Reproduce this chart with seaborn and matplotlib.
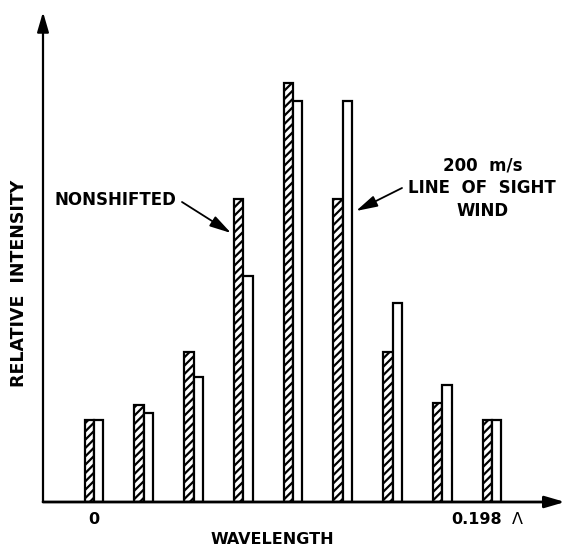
import matplotlib
matplotlib.use("Agg")
import matplotlib.pyplot as plt
import seaborn as sns
import pandas as pd

# Data (relative intensity, arbitrary units)
positions = [0, 1, 2, 3, 4, 5, 6, 7, 8]
nonshifted = [82, 97, 150, 303, 419, 303, 150, 99, 82]
shifted = [82, 89, 125, 226, 401, 401, 199, 117, 82]
series_names = ["NONSHIFTED", "200 m/s LINE OF SIGHT WIND"]

df = pd.DataFrame({
    "pos": positions * 2,
    "val": nonshifted + shifted,
    "series": [series_names[0]] * len(positions) + [series_names[1]] * len(positions),
})

sns.set_style("white")
plt.rcParams["font.family"] = ["DejaVu Sans"]
plt.rcParams["hatch.linewidth"] = 1.6

W, H = 565, 550
fig = plt.figure(figsize=(W / 100, H / 100), dpi=100)
x0, y0, x1, y1 = 43, 502, 565, 12
ax = fig.add_axes([x0 / W, (H - y0) / H, (x1 - x0) / W, (y0 - y1) / H])

sns.barplot(data=df, x="pos", y="val", hue="series", order=positions,
            hue_order=series_names, width=0.38, dodge=True, gap=0,
            palette={series_names[0]: "white", series_names[1]: "white"},
            edgecolor="black", linewidth=1.6, legend=False, ax=ax)

for p in ax.containers[0]:
    p.set_hatch("////")

# axis range: left spine at 43 px, data 0 at 94 px, 8 at 492 px
unit = (492 - 94) / 8.0
ax.set_xlim(-(94 - 43) / unit, (565 - 94) / unit)
ax.set_ylim(0, 490)

for s in ax.spines.values():
    s.set_visible(False)
ax.set_xticks([])
ax.set_yticks([])
ax.set_xlabel("")
ax.set_ylabel("")

def pix_arrow(xs, ys, xe, ye, lw=1.3, hl=1.3, hw=0.35):
    fig.add_artist(matplotlib.patches.FancyArrowPatch(
        (xs / W, 1 - ys / H), (xe / W, 1 - ye / H), transform=fig.transFigure,
        arrowstyle=f"-|>,head_length={hl},head_width={hw}", mutation_scale=10,
        color="black", lw=lw, shrinkA=0, shrinkB=0))

# axes with arrows
pix_arrow(43, 502, 43, 12, lw=1.6, hl=1.2, hw=0.35)
pix_arrow(43, 502, 565, 502, lw=2.0, hl=1.2, hw=0.35)

tf = dict(fontsize=12, fontweight="bold", color="black")

def figtext(x, y, s, **kw):
    d = dict(tf)
    d.update(kw)
    fig.text(x / W, 1 - y / H, s, **d)

figtext(94, 520, "0", ha="center", va="center", fontsize=11.5)
figtext(477, 520, "0.198", ha="center", va="center", fontsize=11.5)
figtext(517, 520, "Λ", ha="center", va="center", fontweight="normal", fontsize=11.5)
figtext(272, 540, "WAVELENGTH", ha="center", va="center", fontsize=11.5)
figtext(19, 283, "RELATIVE  INTENSITY", ha="center", va="center", rotation=90, fontsize=12.5)

figtext(115, 200, "NONSHIFTED", ha="center", va="center")
figtext(483, 165, "200  m/s", ha="center", va="center")
figtext(482, 188, "LINE  OF  SIGHT", ha="center", va="center")
figtext(483, 211, "WIND", ha="center", va="center")

pix_arrow(182, 202, 231, 233)
pix_arrow(402, 188, 356, 211)

fig.savefig("out.png", dpi=100)
